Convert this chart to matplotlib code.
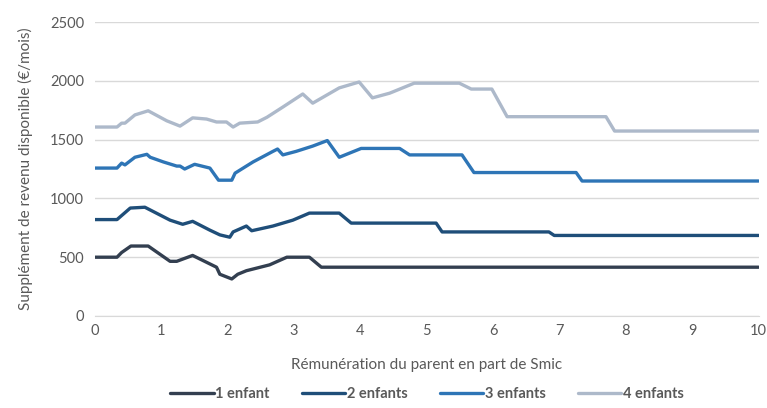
import matplotlib
matplotlib.use("Agg")
import matplotlib.pyplot as plt

plt.rcParams['font.family'] = ['Lato', 'DejaVu Sans']

series_names = ["1 enfant", "2 enfants", "3 enfants", "4 enfants"]
colors = ["#333F50", "#1F4E79", "#2E75B6", "#ADB9CA"]

x1 = [0, 0.33, 0.4, 0.54, 0.8, 1.13, 1.23, 1.47, 1.83, 1.88, 2.06, 2.15, 2.28, 2.63, 2.89, 3.23, 3.41, 10]
y1 = [500, 500, 540, 595, 595, 465, 465, 515, 415, 355, 315, 355, 385, 435, 500, 500, 415, 415]

x2 = [0, 0.33, 0.53, 0.75, 1.13, 1.32, 1.47, 1.73, 1.88, 2.03, 2.08, 2.28, 2.36, 2.68, 2.98, 3.23, 3.68, 3.86, 5.14, 5.23, 6.84, 6.92, 10]
y2 = [820, 820, 918, 925, 815, 780, 805, 730, 690, 670, 715, 765, 725, 765, 815, 875, 875, 790, 790, 715, 715, 685, 685]

x3 = [0, 0.33, 0.4, 0.45, 0.6, 0.78, 0.83, 1.03, 1.23, 1.28, 1.35, 1.5, 1.73, 1.86, 2.06, 2.11, 2.38, 2.68, 2.75, 2.83, 3.03, 3.28, 3.5, 3.68, 4.01, 4.59, 4.74, 5.53, 5.71, 7.25, 7.34, 10]
y3 = [1258, 1258, 1300, 1285, 1350, 1375, 1350, 1310, 1275, 1275, 1250, 1290, 1258, 1155, 1155, 1215, 1310, 1400, 1420, 1370, 1400, 1445, 1492, 1350, 1425, 1425, 1370, 1370, 1220, 1220, 1148, 1148]

x4 = [0, 0.33, 0.4, 0.45, 0.6, 0.8, 1.08, 1.28, 1.47, 1.68, 1.83, 1.98, 2.08, 2.18, 2.45, 2.59, 2.83, 3.13, 3.28, 3.68, 3.98, 4.18, 4.44, 4.81, 5.49, 5.67, 5.98, 6.21, 7.7, 7.83, 10]
y4 = [1607, 1607, 1640, 1640, 1710, 1745, 1660, 1615, 1685, 1675, 1650, 1650, 1607, 1640, 1650, 1690, 1777, 1888, 1810, 1940, 1990, 1855, 1895, 1980, 1980, 1930, 1930, 1695, 1695, 1573, 1573]

xs = [x1, x2, x3, x4]
ys = [y1, y2, y3, y4]

fig = plt.figure(figsize=(7.67, 4.08), dpi=100)
ax = fig.add_axes([0.124, 0.2255, 0.865, 0.7205])

for x, y, c, n in zip(xs, ys, colors, series_names):
    ax.plot(x, y, color=c, lw=2.4, label=n, solid_joinstyle='round', solid_capstyle='round')

ax.set_xlim(0, 10)
ax.set_ylim(0, 2500)
ax.set_xticks(range(0, 11))
ax.set_yticks(range(0, 2501, 500))
ax.grid(axis='y', color='#D9D9D9', lw=1)
ax.set_axisbelow(True)
for s in ['top', 'right', 'left']:
    ax.spines[s].set_visible(False)
ax.spines['bottom'].set_color('#D9D9D9')
ax.tick_params(axis='both', length=0, labelsize=10.5, colors='#595959', pad=8)
ax.tick_params(axis='x', pad=6)

ax.set_ylabel("Supplément de revenu disponible (€/mois)", fontsize=11, color='#595959', labelpad=12)
ax.set_xlabel("Rémunération du parent en part de Smic", fontsize=11, color='#595959', labelpad=14)

leg = ax.legend(loc='center', bbox_to_anchor=(0.5, -0.265), ncol=4, frameon=False,
                handlelength=3.0, handletextpad=0.1, columnspacing=2.2,
                prop={'weight': 'bold', 'size': 10.5})
for t in leg.get_texts():
    t.set_color('#595959')

fig.savefig("out.png", dpi=100)
